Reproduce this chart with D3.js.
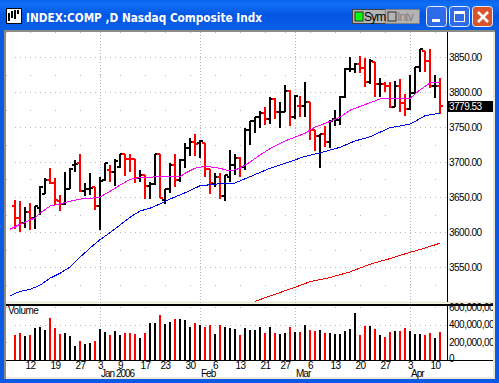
<!DOCTYPE html>
<html>
<head>
<meta charset="utf-8">
<title>INDEX:COMP</title>
<script src="https://cdn.jsdelivr.net/npm/d3@7"></script>
<style>
    html, body { margin: 0; padding: 0; background: #0a5ae6; overflow: hidden; }
    svg { display: block; }
    text { font-family: "Liberation Sans", Arial, sans-serif; font-size: 10px; letter-spacing: -0.5px; fill: #000; }
    .axis text { font-family: "Liberation Sans", Arial, sans-serif; font-size: 10px; }
    .axis path, .axis line { display: none; }
    .month-label { letter-spacing: -1px; }
    .button-label { font-size: 12px; letter-spacing: -0.9px; }
</style>
</head>
<body>
<div id="vis"></div>
<script>
// daily bars, Dec 7 2005 - Apr 11 2006
var opens = [3637,3620,3613,3629,3620,3634,3654,3674,3670,3644,3640,3662,3696,3698,3659,3661,3664,3637,3674,3688,3686,3693,3711,3705,3704,3677,3682,3666,3669,3711,3646,3661,3696,3674,3703,3720,3728,3727,3727,3690,3669,3679,3652,3679,3696,3706,3693,3746,3759,3765,3770,3761,3790,3771,3772,3802,3765,3780,3780,3786,3746,3737,3740,3729,3761,3760,3793,3833,3833,3840,3835,3814,3843,3811,3812,3809,3778,3808,3784,3776,3798,3836,3858,3845,3808,3809];
var highs = [3646,3644,3636,3642,3637,3666,3677,3692,3677,3653,3686,3691,3703,3712,3670,3685,3664,3678,3699,3696,3704,3712,3711,3711,3704,3688,3682,3672,3712,3711,3662,3698,3711,3704,3727,3734,3740,3732,3727,3690,3685,3684,3681,3717,3711,3707,3748,3759,3765,3773,3778,3793,3792,3786,3810,3803,3796,3794,3814,3786,3746,3740,3751,3760,3775,3794,3835,3850,3842,3852,3848,3847,3843,3820,3815,3815,3816,3818,3797,3824,3836,3862,3858,3862,3824,3820];
var lows = [3605,3600,3606,3603,3604,3624,3654,3668,3639,3630,3638,3661,3686,3657,3651,3653,3632,3603,3673,3672,3666,3692,3680,3686,3670,3672,3647,3647,3667,3648,3640,3656,3665,3672,3691,3709,3709,3706,3679,3654,3665,3647,3645,3672,3681,3679,3689,3724,3742,3748,3753,3755,3762,3749,3771,3752,3761,3765,3764,3731,3716,3692,3722,3720,3751,3753,3791,3829,3827,3827,3807,3812,3793,3793,3800,3777,3778,3772,3766,3774,3797,3829,3829,3806,3791,3768];
var closes = [3620,3613,3629,3620,3637,3665,3674,3670,3646,3640,3662,3690,3697,3659,3661,3663,3637,3673,3698,3686,3702,3711,3705,3704,3677,3682,3666,3669,3711,3648,3661,3696,3674,3703,3720,3728,3726,3730,3690,3670,3679,3652,3681,3696,3706,3693,3746,3759,3765,3770,3761,3790,3771,3772,3802,3765,3795,3780,3786,3746,3737,3740,3729,3759,3760,3793,3833,3833,3840,3835,3814,3845,3811,3812,3809,3778,3808,3784,3776,3798,3836,3861,3845,3808,3809,3779.53];
var volumes = [287,309,275,287,366,377,343,479,366,298,309,275,162,219,185,196,219,354,320,287,332,287,309,309,298,253,309,422,422,513,411,433,467,467,456,377,422,400,377,400,298,400,377,366,354,287,366,343,343,377,309,377,309,298,309,377,320,320,400,343,332,343,309,309,298,298,332,354,535,287,388,388,354,287,264,320,332,332,366,332,298,298,287,309,253,320];

// moving averages, read at the bar positions in the *Idx arrays
var pinkIdx = [-1,1,4,5,7,9,11,13,15,17,19,21,23,25,27,29,31,33,34,36,38,41,43,45,47,49,51,54,58,60,62,65,67,70,73,76,79,81,83,85];
var pinkVals = [3604,3611,3620,3627,3637,3640,3644,3647,3648,3650,3658,3667,3675,3678,3678,3680,3679,3679,3684,3691,3694,3691,3687,3691,3700,3710,3719,3730,3741,3750,3755,3764,3774,3782,3790,3791,3791,3803,3813,3814];
var blueIdx = [-1,1,3,5,7,9,11,13,15,17,19,21,23,25,27,29,31,34,37,41,44,47,51,54,58,61,65,68,71,75,79,82,85];
var blueVals = [3509,3515,3518,3524,3534,3541,3550,3564,3577,3589,3599,3610,3621,3630,3634,3640,3647,3656,3666,3669,3670,3679,3691,3698,3708,3713,3721,3730,3736,3749,3754,3766,3770];
var redIdx = [48,56,59,63,67,71,75,79,82,85];
var redVals = [3501,3521,3529,3535,3543,3554,3562,3571,3577,3584];

// labels
var dayIdx = [3,8,13,17,21,26,30,35,40,45,50,54,59,64,69,74,79,84];
var dayLabels = ["12","19","27","3","9","17","23","30","6","13","21","27","6","13","20","27","3","10"];
var monthIdx = [17,37,56,79];
var monthLabels = ["Jan 2006","Feb","Mar","Apr"];
var priceTicks = [3550,3600,3650,3700,3750,3800,3850];
var priceMinor = [3525,3575,3625,3675,3725,3775,3825];
var volTicks = [0,200,400,600];

var width = 499, height = 383;
var barColor = function(i) {
    var down = i == 0 ? closes[i] < opens[i] : closes[i] < closes[i - 1];
    return down ? '#ff0000' : '#000000';
};

var svg = d3.select('#vis').append('svg')
    .attr('width', width)
    .attr('height', height);

var xScale = d3.scaleLinear().domain([0, 85]).range([15, 440]);
var yScale = d3.scaleLinear().domain([3550, 3850]).range([267, 57]);
var vScale = d3.scaleLinear().domain([0, 600]).range([360, 307]);

drawWindow();
drawGrid();
drawBars();
drawLines();
drawVolume();
drawAxes();

function drawWindow()
{
    var grad = svg.append('defs').append('linearGradient')
        .attr('id', 'title').attr('x1', 0).attr('x2', 0).attr('y1', 0).attr('y2', 1);
    grad.append('stop').attr('offset', 0).attr('stop-color', '#0a62ee');
    grad.append('stop').attr('offset', 0.15).attr('stop-color', '#0f6ff5');
    grad.append('stop').attr('offset', 0.5).attr('stop-color', '#0456e4');
    grad.append('stop').attr('offset', 1).attr('stop-color', '#0a5fe8');

    svg.append('rect').attr('width', width).attr('height', height).attr('fill', '#0a5ae6');
    svg.append('rect').attr('width', width).attr('height', 30).attr('fill', 'url(#title)');
    svg.append('rect').attr('x', 4).attr('y', 30).attr('width', 491).attr('height', 349).attr('fill', '#ece9d8');
    svg.append('rect').attr('x', 4).attr('y', 30).attr('width', 2).attr('height', 349).attr('fill', '#8c8c84');
    svg.append('rect').attr('x', 4).attr('y', 30).attr('width', 491).attr('height', 2).attr('fill', '#8c8c84');
    svg.append('rect').attr('x', 6).attr('y', 32).attr('width', 487).attr('height', 345).attr('fill', '#ffffff');
    svg.append('rect').attr('x', 6).attr('y', 301.5).attr('width', 487).attr('height', 2).attr('fill', '#ece9d8');

    // icon
    svg.append('rect').attr('x', 6.5).attr('y', 8.5).attr('width', 15).attr('height', 15)
        .attr('fill', '#ffffff').attr('stroke', '#000000');
    [[9, 13, 21], [12, 11, 18], [15, 10, 19], [18, 10, 14]].forEach(function(b) {
        svg.append('line').attr('x1', b[0]).attr('x2', b[0]).attr('y1', b[1]).attr('y2', b[2])
            .attr('stroke', '#000000').attr('stroke-width', 2);
    });

    svg.append('text')
        .attr('x', 26).attr('y', 22)
        .attr('textLength', 236).attr('lengthAdjust', 'spacingAndGlyphs')
        .style('font-family', '"DejaVu Sans", sans-serif')
        .style('font-size', '13px').style('font-weight', 'bold').style('letter-spacing', '0').style('fill', '#ffffff')
        .text('INDEX:COMP ,D Nasdaq Composite Indx');

    // Sym / Intv buttons
    svg.append('rect').attr('x', 352.5).attr('y', 9.5).attr('width', 33).attr('height', 14)
        .attr('fill', '#b4b4b4').attr('stroke', '#404040');
    svg.append('rect').attr('x', 385.5).attr('y', 9.5).attr('width', 34).attr('height', 14)
        .attr('fill', '#b4b4b4').attr('stroke', '#808080');
    svg.append('rect').attr('x', 355).attr('y', 12).attr('width', 8).attr('height', 9)
        .attr('fill', '#00ff00').attr('stroke', '#303030');
    svg.append('rect').attr('x', 388).attr('y', 12).attr('width', 8).attr('height', 9)
        .attr('fill', '#b4b4b4').attr('stroke', '#303030');
    svg.append('text').attr('class', 'button-label').attr('x', 364).attr('y', 21).text('Sym');
    svg.append('text').attr('class', 'button-label').attr('x', 397).attr('y', 21).style('fill', '#808080').text('Intv');

    // window controls
    [[426.5, '#2f6be8'], [449.5, '#2f6be8'], [472.5, '#d9532c']].forEach(function(b) {
        svg.append('rect').attr('x', b[0]).attr('y', 6.5).attr('width', 20).attr('height', 20).attr('rx', 3)
            .attr('fill', b[1]).attr('stroke', '#e8eefc');
    });
    svg.append('rect').attr('x', 432).attr('y', 19).attr('width', 8).attr('height', 3).attr('fill', '#ffffff');
    svg.append('rect').attr('x', 454.5).attr('y', 11.5).attr('width', 10).attr('height', 10)
        .attr('fill', 'none').attr('stroke', '#ffffff');
    svg.append('rect').attr('x', 454).attr('y', 11).attr('width', 11).attr('height', 3).attr('fill', '#ffffff');
    svg.append('path').attr('d', 'M478,12L488,22M488,12L478,22')
        .attr('stroke', '#ffffff').attr('stroke-width', 2.5);
}

function drawGrid()
{
    var gridColor = '#b8b8b8';
    var g = svg.append('g').attr('shape-rendering', 'crispEdges');

    // dense rows
    g.selectAll('.major').data(priceTicks).enter().append('line')
        .attr('x1', 15).attr('x2', 447)
        .attr('y1', function(d) { return Math.round(yScale(d)) + 0.5; })
        .attr('y2', function(d) { return Math.round(yScale(d)) + 0.5; })
        .attr('stroke', gridColor).attr('stroke-dasharray', '1 4');
    g.append('line')
        .attr('x1', 15).attr('x2', 447)
        .attr('y1', Math.round(vScale(400)) + 0.5).attr('y2', Math.round(vScale(400)) + 0.5)
        .attr('stroke', gridColor).attr('stroke-dasharray', '1 4');

    // month lines
    g.selectAll('.month').data(monthIdx).enter().append('line')
        .attr('x1', function(d) { return xScale(d) + 0.5; })
        .attr('x2', function(d) { return xScale(d) + 0.5; })
        .attr('y1', 32).attr('y2', 360)
        .attr('stroke', gridColor).attr('stroke-dasharray', '1 2');

    // sparse dots where the day ticks meet the minor levels
    var rows = priceMinor.map(function(d) { return yScale(d); })
        .concat([32, vScale(200), vScale(600)]);
    var cols = dayIdx.map(function(d) { return xScale(d); }).concat([6]);
    rows.forEach(function(y) {
        g.selectAll(null).data(cols).enter().append('rect')
            .attr('x', function(d) { return d; })
            .attr('y', Math.round(y))
            .attr('width', 1).attr('height', 1)
            .attr('fill', gridColor);
    });
}

function drawBars()
{
    var bars = svg.append('g').attr('shape-rendering', 'crispEdges')
        .selectAll('g').data(opens).enter().append('g')
        .attr('fill', function(d, i) { return barColor(i); });

    bars.append('rect')
        .attr('x', function(d, i) { return xScale(i) - 1; })
        .attr('y', function(d, i) { return yScale(highs[i]); })
        .attr('width', 2)
        .attr('height', function(d, i) { return yScale(lows[i]) - yScale(highs[i]); });
    bars.append('rect')
        .attr('x', function(d, i) { return xScale(i) - 3; })
        .attr('y', function(d, i) { return yScale(opens[i]) - 1; })
        .attr('width', 3).attr('height', 2);
    bars.append('rect')
        .attr('x', function(d, i) { return xScale(i); })
        .attr('y', function(d, i) { return yScale(closes[i]) - 1; })
        .attr('width', 3).attr('height', 2);
}

function drawLines()
{
    var line = d3.line()
        .x(function(d) { return xScale(d[0]); })
        .y(function(d) { return yScale(d[1]); });

    [[pinkIdx, pinkVals, '#ff00ff', 1], [blueIdx, blueVals, '#0000e6', 1], [redIdx, redVals, '#f00000', 1]].forEach(function(s) {
        svg.append('path')
            .datum(d3.zip(s[0], s[1]))
            .attr('d', line)
            .attr('fill', 'none')
            .attr('stroke', s[2])
            .attr('stroke-width', s[3])
            .attr('shape-rendering', 'crispEdges');
    });
}

function drawVolume()
{
    svg.append('g').attr('shape-rendering', 'crispEdges')
        .selectAll('rect').data(volumes).enter().append('rect')
        .attr('x', function(d, i) { return xScale(i) - 1; })
        .attr('y', function(d) { return vScale(d); })
        .attr('width', 2)
        .attr('height', function(d) { return vScale(0) - vScale(d); })
        .attr('fill', function(d, i) { return barColor(i); });

    svg.append('text').attr('x', 8).attr('y', 314).text('Volume');
}

function drawAxes()
{
    svg.append('defs').append('clipPath').attr('id', 'axisClip')
        .append('rect').attr('x', 447).attr('y', 30).attr('width', 46).attr('height', 335);

    var g = svg.append('g').attr('shape-rendering', 'crispEdges');
    g.append('rect').attr('x', 447).attr('y', 32).attr('width', 1).attr('height', 270).attr('fill', '#000000');
    g.append('rect').attr('x', 447).attr('y', 304).attr('width', 1).attr('height', 56).attr('fill', '#000000');
    g.append('rect').attr('x', 6).attr('y', 304).attr('width', 487).attr('height', 2).attr('fill', '#000000');
    g.append('rect').attr('x', 6).attr('y', 360).attr('width', 487).attr('height', 1).attr('fill', '#000000');

    var priceAxis = d3.axisRight(yScale).tickValues(priceTicks).tickSize(0).tickPadding(0)
        .tickFormat(d3.format('.2f'));
    svg.append('g').attr('class', 'axis').attr('transform', 'translate(449,0)').call(priceAxis);

    var volAxis = d3.axisRight(vScale).tickValues(volTicks).tickSize(0).tickPadding(0)
        .tickFormat(function(d) { return d3.format(',')(d * 1e6); });
    var va = svg.append('g').attr('class', 'axis').attr('clip-path', 'url(#axisClip)')
        .append('g').attr('transform', 'translate(449,0)').call(volAxis);
    va.selectAll('.tick text').filter(function(d) { return d == 0; }).attr('y', -2);

    // last price box
    svg.append('rect').attr('x', 447).attr('y', 101).attr('width', 46).attr('height', 11).attr('fill', '#000000')
        .attr('shape-rendering', 'crispEdges');
    svg.append('text').attr('x', 449).attr('y', yScale(closes[85]) + 4)
        .style('fill', '#ffffff')
        .text(d3.format('.2f')(closes[85]));

    var dayAxis = d3.axisBottom(xScale).tickValues(dayIdx).tickSize(0).tickPadding(0)
        .tickFormat(function(d, i) { return dayLabels[i]; });
    svg.append('g').attr('class', 'axis').attr('transform', 'translate(0,362)').call(dayAxis);

    svg.selectAll('.month-label').data(monthIdx).enter().append('text')
        .attr('class', 'month-label')
        .attr('x', function(d) { return xScale(d) + 1; })
        .attr('y', 377)
        .text(function(d, i) { return monthLabels[i]; });
}
</script>
</body>
</html>
